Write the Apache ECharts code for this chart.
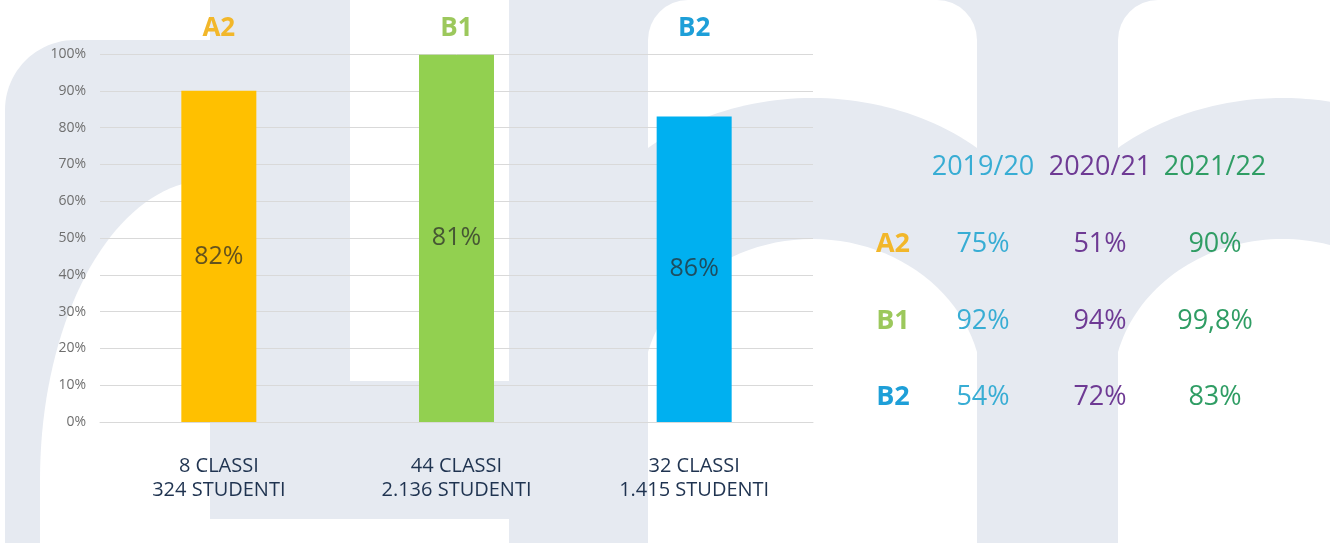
<!DOCTYPE html>
<html>
<head>
<meta charset="utf-8">
<script src="https://cdn.jsdelivr.net/npm/echarts@6/dist/echarts.min.js"></script>
<style>
  html, body { margin: 0; padding: 0; background: #ffffff; }
  #chart { width: 1330px; height: 543px; }
</style>
</head>
<body>
<div id="chart"></div>
<script>
// ---- data ----
const categories = ['A2', 'B1', 'B2'];
const passRates = [90, 99.8, 83];
const barLabelTexts = ['82%', '81%', '86%'];
const classLines = ['8 CLASSI', '44 CLASSI', '32 CLASSI'];
const studentLines = ['324 STUDENTI', '2.136 STUDENTI', '1.415 STUDENTI'];
const yearHeaders = ['2019/20', '2020/21', '2021/22'];
const tableRows = ['A2', 'B1', 'B2'];
const ratesA2 = [75, 51, 90];
const ratesB1 = [92, 94, 99.8];
const ratesB2 = [54, 72, 83];

// ---- styles ----
const FONT = "'Open Sans', 'Noto Sans', sans-serif";
const levelColors = ['#ffc000', '#92d050', '#00b0f0'];
const levelTextColors = ['#f2b72a', '#9cc85c', '#1e9fd8'];
const yearColors = ['#38add4', '#6e3a94', '#2f9d64'];
const WM = '#e6eaf1';
const WH = '#ffffff';

const tableRates = [ratesA2, ratesB1, ratesB2];
const fmtRate = v => String(v).replace('.', ',') + '%';

// ---- background watermark (decoration) ----
function upperArc(cx, cy, rx, ry, xs, xe, n) {
  const ang = x => 2 * Math.PI - Math.acos(Math.max(-1, Math.min(1, (x - cx) / rx)));
  const a0 = ang(xs), a1 = ang(xe);
  const pts = [];
  for (let k = 0; k <= n; k++) {
    const a = a0 + (a1 - a0) * k / n;
    pts.push([cx + rx * Math.cos(a), cy + ry * Math.sin(a)]);
  }
  return pts;
}
function poly(points, fill) {
  return { type: 'polygon', z: -100, silent: true, shape: { points: points }, style: { fill: fill } };
}
function box(x, y, w, h, fill, r) {
  return { type: 'rect', z: -100, silent: true, shape: { x: x, y: y, width: w, height: h, r: r || 0 }, style: { fill: fill } };
}

const graphics = [
  poly([[5, 543], [5, 110]].concat(upperArc(75, 110, 70, 70, 5, 75, 24), [[210, 40], [210, 0], [350, 0], [350, 519], [210, 519], [210, 543]]), WM),
  poly([[40, 543]].concat(upperArc(210, 480, 170, 300, 40, 210, 40), [[210, 543]]), WH),
  box(350, 381, 159, 138, WM),
  box(509, 0, 831, 543, WM),
  box(648, 0, 329, 200, WH, [40, 40, 0, 0]),
  poly(upperArc(812.5, 300, 250, 202, 648, 977, 48).concat([[977, 200], [648, 200]]), WM),
  poly([[648, 543]].concat(upperArc(812.5, 390, 170, 151, 648, 977, 48), [[977, 543]]), WH),
  box(1118, 0, 222, 200, WH, [40, 0, 0, 0]),
  poly(upperArc(1282.5, 300, 250, 202, 1118, 1340, 48).concat([[1340, 200], [1118, 200]]), WM),
  poly([[1118, 543]].concat(upperArc(1282.5, 390, 170, 151, 1118, 1340, 48), [[1340, 543]]), WH)
];

// ---- table text ----
const colX = [983, 1100, 1215];
const headerY = 167;
const rowY = [244, 321, 397];
const rowLabelX = 893;

function txt(text, x, y, color, size, weight) {
  return {
    type: 'text', z: 100, silent: true,
    style: {
      text: text, x: x, y: y,
      fill: color,
      font: (weight || 'normal') + ' ' + size + 'px ' + FONT,
      textAlign: 'center', align: 'center',
      textVerticalAlign: 'middle', verticalAlign: 'middle'
    }
  };
}

yearHeaders.forEach((h, j) => graphics.push(txt(h, colX[j], headerY, yearColors[j], 27)));
tableRows.forEach((r, i) => {
  graphics.push(txt(r, rowLabelX, rowY[i], levelTextColors[i], 27, 'bold'));
  tableRates[i].forEach((v, j) => graphics.push(txt(fmtRate(v), colX[j], rowY[i], yearColors[j], 27)));
});

// ---- chart ----
const chart = echarts.init(document.getElementById('chart'), null, { renderer: 'canvas' });

const topRich = {};
categories.forEach((c, i) => {
  topRich[c] = { color: levelTextColors[i], fontSize: 26, fontWeight: 'bold', fontFamily: FONT };
});

chart.setOption({
  animation: false,
  backgroundColor: '#ffffff',
  textStyle: { fontFamily: FONT },
  grid: { left: 100, right: 517, top: 54, bottom: 121, containLabel: false },
  xAxis: [
    {
      type: 'category',
      data: categories,
      position: 'bottom',
      axisLine: { show: true, lineStyle: { color: '#d9d9d9', width: 1 } },
      axisTick: { show: false },
      axisLabel: {
        margin: 32,
        fontSize: 20,
        lineHeight: 24,
        color: '#1f3350',
        fontFamily: FONT,
        formatter: (v, i) => classLines[i] + '\n' + studentLines[i]
      }
    },
    {
      type: 'category',
      data: categories,
      position: 'top',
      axisLine: { show: false },
      axisTick: { show: false },
      axisLabel: {
        margin: 12,
        formatter: v => '{' + v + '|' + v + '}',
        rich: topRich
      }
    }
  ],
  yAxis: {
    type: 'value',
    min: 0,
    max: 100,
    interval: 10,
    axisLine: { show: false },
    axisTick: { show: false },
    splitLine: { show: true, lineStyle: { color: '#d9d9d9', width: 1 } },
    axisLabel: {
      margin: 14,
      fontSize: 14,
      color: '#6f6f6f',
      fontFamily: FONT,
      formatter: '{value}%'
    }
  },
  graphic: graphics,
  series: [
    {
      type: 'bar',
      xAxisIndex: 0,
      barWidth: 75,
      data: passRates.map((v, i) => ({ value: v, itemStyle: { color: levelColors[i] } })),
      label: {
        show: true,
        position: 'inside',
        fontSize: 25,
        fontFamily: FONT,
        color: 'rgba(40,40,40,0.72)',
        formatter: p => barLabelTexts[p.dataIndex]
      }
    }
  ]
});
</script>
</body>
</html>
